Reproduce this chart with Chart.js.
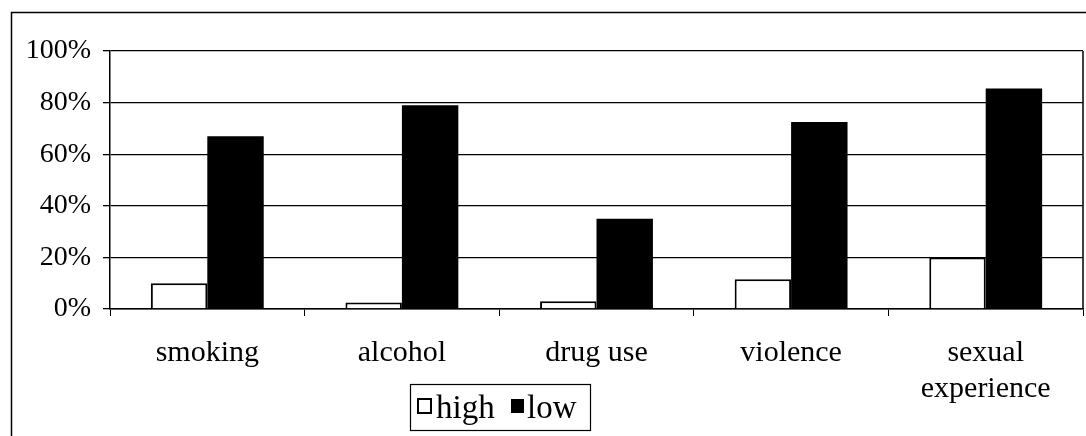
<!DOCTYPE html>
<html lang="en">

<head>
    <meta charset="UTF-8">
    <title>Risk behaviour: high vs low</title>
    <style>
        body { margin: 0; background: #fff; }
        #wrap { position: relative; width: 1086px; height: 436px; }
    </style>
</head>

<body>
    <div id="wrap">
        <canvas id="riskChart" width="1086" height="436"></canvas>
    </div>
</body>

<script src="https://cdn.jsdelivr.net/npm/chart.js"></script>

<script>
    const categories = ['smoking', 'alcohol', 'drug use', 'violence', ['sexual', 'experience']];
    const highValues = [10, 2.5, 3, 11.5, 20];
    const lowValues = [67, 79, 35, 72.5, 85.5];
    const yTicks = [0, 20, 40, 60, 80, 100];

    const FONT = 'Liberation Serif';

    // frame round the whole picture, right edge of the plot, and the boxed legend
    const extras = {
        id: 'extras',
        afterDraw(chart) {
            const ctx = chart.ctx;
            const a = chart.chartArea;
            ctx.save();
            ctx.strokeStyle = '#000';
            ctx.lineWidth = 1.5;
            ctx.beginPath();
            ctx.moveTo(11.5, 440);
            ctx.lineTo(11.5, 12.5);
            ctx.lineTo(1090, 12.5);
            ctx.stroke();

            ctx.beginPath();
            ctx.moveTo(a.right, a.top);
            ctx.lineTo(a.right, a.bottom);
            ctx.stroke();

            // legend
            ctx.lineWidth = 1.2;
            ctx.strokeRect(410.5, 384.5, 180, 46);
            ctx.font = '33px "' + FONT + '"';
            ctx.textBaseline = 'alphabetic';
            const ds = chart.data.datasets;
            ctx.fillStyle = '#fff';
            ctx.fillRect(418, 399, 13, 14);
            ctx.lineWidth = 2;
            ctx.strokeRect(418, 399, 13, 14);
            ctx.fillStyle = '#000';
            ctx.fillText(ds[0].label, 436, 418);
            ctx.fillRect(511, 399, 13, 14);
            ctx.fillText(ds[1].label, 527, 418);
            ctx.restore();
        }
    };

    const ctx = document.getElementById('riskChart').getContext('2d');
    const chart = new Chart(ctx, {
        type: 'bar',
        data: {
            labels: categories,
            datasets: [{
                label: 'high',
                data: highValues,
                backgroundColor: '#fff',
                borderColor: '#000',
                borderWidth: 2,
                borderSkipped: 'bottom'
            }, {
                label: 'low',
                data: lowValues,
                backgroundColor: '#000',
                borderColor: '#000',
                borderWidth: 0
            }]
        },
        options: {
            responsive: false,
            animation: false,
            events: [],
            layout: {
                padding: { top: 51, right: 3, left: 0, bottom: 0 }
            },
            datasets: {
                bar: {
                    categoryPercentage: 0.58,
                    barPercentage: 1.0
                }
            },
            plugins: {
                legend: { display: false },
                tooltip: { enabled: false }
            },
            scales: {
                x: {
                    grid: {
                        offset: true,
                        drawOnChartArea: false,
                        drawTicks: true,
                        tickLength: 7,
                        color: '#000'
                    },
                    border: { color: '#000', width: 1.5 },
                    ticks: {
                        color: '#000',
                        font: { family: FONT, size: 30, lineHeight: 1.2 },
                        padding: 19,
                        maxRotation: 0,
                        autoSkip: false
                    },
                    afterFit(scale) { scale.height = 127; }
                },
                y: {
                    min: 0,
                    max: 100,
                    afterBuildTicks(scale) {
                        scale.ticks = yTicks.map(v => ({ value: v }));
                    },
                    grid: {
                        color: '#000',
                        lineWidth: 1.3,
                        drawTicks: true,
                        tickLength: 7
                    },
                    border: { color: '#000', width: 1.5 },
                    ticks: {
                        color: '#000',
                        font: { family: FONT, size: 28 },
                        padding: 12,
                        callback: v => v + '%'
                    },
                    afterFit(scale) { scale.width = 110; }
                }
            }
        },
        plugins: [extras]
    });
</script>

</html>
